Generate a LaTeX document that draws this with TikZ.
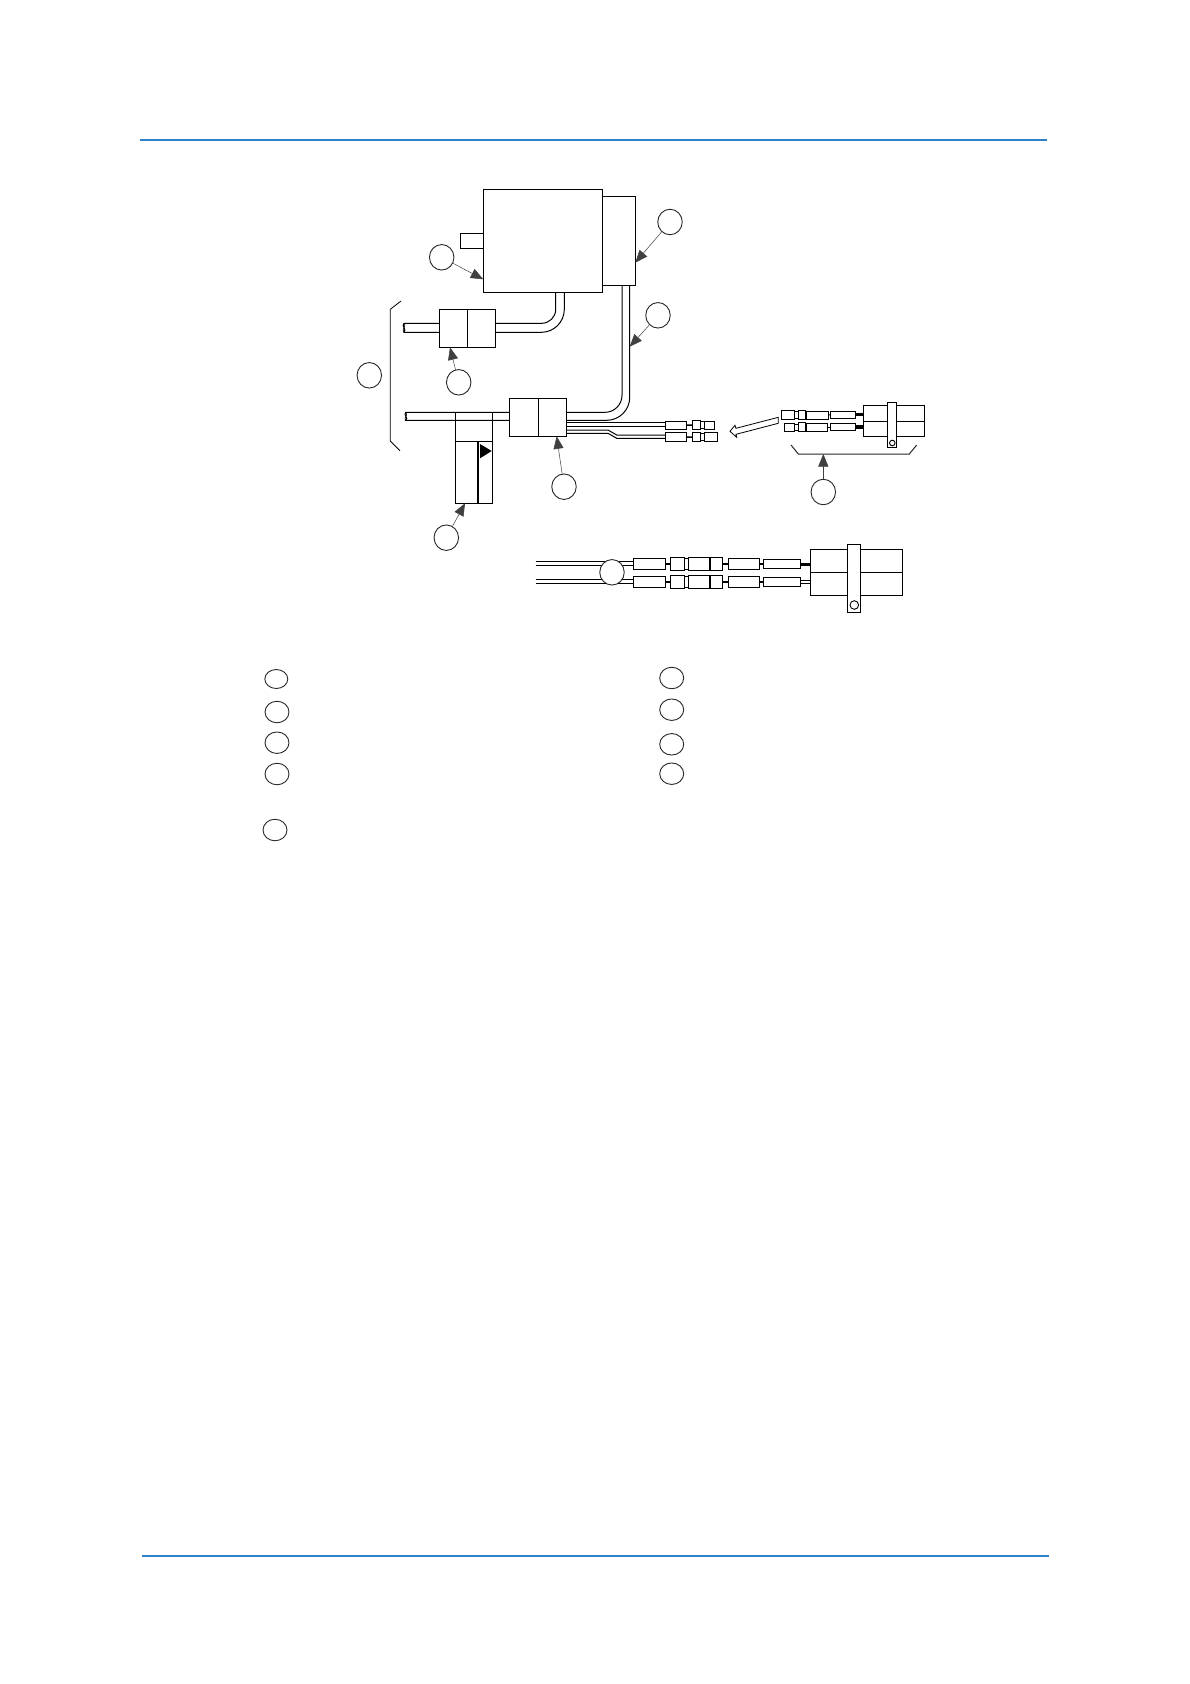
\documentclass[tikz,border=0pt]{standalone}
\usepackage{tikz}
\usetikzlibrary{shapes.geometric,arrows.meta}
\definecolor{rulecolor}{HTML}{2F82C8}
\tikzstyle{every node}=[inner sep=0pt,outer sep=0pt]
\tikzstyle{part}=[draw=black,line width=0.9pt,rectangle]
\tikzset{size/.style 2 args={minimum width=#1pt,minimum height=#2pt}}
\tikzstyle{callout}=[draw=black!85,line width=0.9pt,ellipse,fill=white,minimum width=24.5pt,minimum height=25.5pt]
\tikzstyle{legendmark}=[draw=black!85,line width=0.9pt,ellipse,minimum width=24pt,minimum height=21.5pt]
\tikzstyle{leader}=[draw=black!75,line width=0.5pt,-{Triangle[length=12.5pt,width=10pt]}]
\tikzstyle{cable}=[line width=1pt]
\tikzstyle{pagerule}=[draw=rulecolor,line width=2pt]

\begin{document}
\begin{tikzpicture}[x=1pt,y=-1pt]
  \useasboundingbox (0,0) rectangle (1190,1684);
  % page rules
  \coordinate (topruleL) at (140,139.7);
  \coordinate (topruleR) at (1047,139.7);
  \coordinate (botruleL) at (142,1555.7);
  \coordinate (botruleR) at (1049,1555.7);
  \draw[pagerule] (topruleL) -- (topruleR);
  \draw[pagerule] (botruleL) -- (botruleR);

  % motor
  \node[part,size={119}{103}] (motor) at (542.8,240.8) {};
  \node[part,size={33}{89}] (side) at (618.8,240.8) {};
  \node[part,size={23}{15}] (shaft) at (471.8,240.8) {};

  % upper connector
  \node[part,size={28}{38}] (topL) at (453.3,328.3) {};
  \node[part,size={28}{38}] (topR) at (481.5,328.3) {};
  \draw[cable,rounded corners=14pt] ([xshift=12.9pt]motor.south) |- ([yshift=5pt]topR.east);
  \draw[cable,rounded corners=23pt] ([xshift=21.5pt]motor.south) |- ([yshift=-4pt]topR.east);
  \coordinate (stubA) at (404,323.3);
  \coordinate (stubB) at (404,332.3);
  \draw[cable] ([yshift=5pt]topL.west) -- (stubA) .. controls (401,326) and (407,329) .. (stubB) -- ([yshift=-4pt]topL.west);
  \draw[line width=0.6pt] (stubA) .. controls (407,326) and (401,329) .. (stubB);

  % lower connector
  \node[part,size={29}{38}] (lowL) at (523.8,417.3) {};
  \node[part,size={28.4}{38}] (lowR) at (552.5,417.3) {};
  \draw[cable,rounded corners=17pt] ([xshift=3.2pt]side.south) |- ([yshift=5pt]lowR.east);
  \draw[cable,rounded corners=23pt] ([xshift=10.9pt]side.south) |- ([yshift=-3pt]lowR.east);
  \coordinate (stubC) at (405.7,412.3);
  \coordinate (stubD) at (405.7,420.3);
  \draw[cable] ([yshift=5pt]lowL.west) -- (stubC) .. controls (403,415) and (409,418) .. (stubD) -- ([yshift=-3pt]lowL.west);
  \draw[line width=0.6pt] (stubC) .. controls (409,415) and (403,418) .. (stubD);

  % bracket of the two connectors
  \coordinate (brA) at (401,301);
  \coordinate (brB) at (390.3,309.3);
  \coordinate (brC) at (390.3,441);
  \coordinate (brD) at (400,450.7);
  \draw[line width=0.8pt] (brA) -- (brB) -- (brC) -- (brD);

  % sensor under the cable
  \node[part,size={37.4}{29}] (senshead) at (474,426.8) {};
  \node[part,size={37.4}{62}] (sensbody) at (474,472.3) {};
  \draw[line width=1.6pt] (478,441.3) -- (478,503.3);
  \fill[black] (480,444) -- (491.7,451) -- (480,458.3) -- cycle;

  % terminals on the wires
  \node[part,size={21.4}{8.7}] (termA) at (676,425.3) {};
  \node[part,size={8.4}{9.4}] (termB) at (696.5,425) {};
  \node[part,size={10.4}{8.3}] (termC) at (709.5,425.3) {};
  \node[part,size={21.4}{9}] (termD) at (676,437.2) {};
  \node[part,size={8.4}{9.4}] (termE) at (696.5,437) {};
  \node[part,size={13.4}{9.4}] (termF) at (711,437) {};
  \draw[cable] ([yshift=-5.4pt]lowR.east) -- ([yshift=2.6pt]termA.west);
  \draw[cable] ([yshift=-9.4pt]lowR.east) -- ([yshift=-1.4pt]termA.west);
  \draw[cable] ([yshift=-12.7pt]lowR.east) -- (608,430) -- (616.7,435) -- ([yshift=2.2pt]termD.west);
  \draw[cable] ([yshift=-16pt]lowR.east) -- (608,433.3) -- (616.7,438.3) -- ([yshift=-1.1pt]termD.west);
  \draw[line width=1.6pt] (termA) -- (termB);
  \draw[line width=1.6pt] (termD) -- (termE);
  \foreach \a/\b in {termB/termC,termE/termF} {
    \draw[line width=0.8pt] ([yshift=-1pt]\a.north east) -- ([yshift=-1pt]\a.north east -| \b.west);
    \draw[line width=0.8pt] ([yshift=1pt]\a.south east) -- ([yshift=1pt]\a.south east -| \b.west);
  }

  % plug, small view
  \node[part,size={13.3}{9.4}] (plugA) at (788,415) {};
  \node[part,size={6.7}{9.4}] (plugB) at (801.7,415) {};
  \node[part,size={21.7}{8}] (plugC) at (817.2,415) {};
  \node[part,size={25.4}{6.7}] (plugD) at (843,414.7) {};
  \node[part,size={10.4}{8}] (plugE) at (789.5,427) {};
  \node[part,size={6.7}{9.4}] (plugF) at (801.7,427) {};
  \node[part,size={21.4}{8}] (plugG) at (817,427) {};
  \node[part,size={25.4}{6.7}] (plugH) at (843,427) {};
  \node[part,size={61.4}{31.4}] (plugbody) at (894,421) {};
  \draw[cable] (plugbody.west) -- (plugbody.east);
  \node[part,fill=white,size={9.4}{45.4}] (plugstrap) at (892,425) {};
  \node[part,circle,minimum size=5.6pt] (plughole) at (892.3,443) {};
  \foreach \a/\b in {plugA/plugB,plugE/plugF} {
    \draw[line width=0.8pt] ([yshift=-1pt]\a.north east) -- ([yshift=-1pt]\a.north east -| \b.west);
    \draw[line width=0.8pt] ([yshift=1pt]\a.south east) -- ([yshift=1pt]\a.south east -| \b.west);
  }
  \draw[line width=1pt] (plugC) -- (plugD);
  \draw[line width=1pt] (plugG) -- (plugH);
  \draw[line width=3.2pt] (plugD.east) -- (plugD.east -| plugbody.west);
  \draw[line width=3.2pt] (plugH.east) -- (plugH.east -| plugbody.west);

  % hollow arrow from the plug to the terminals
  \coordinate (hollowtip) at (730,431.3);
  \draw[line width=0.8pt] (778.3,417.3) -- (778.3,423.3) -- (736,434.3) -- (736.7,437.3) -- (hollowtip) -- (735,425.3) -- (736,428.3) -- cycle;

  % bracket of the plug
  \coordinate (plugbrA) at (791,445);
  \coordinate (plugbrB) at (798.3,454);
  \coordinate (plugbrC) at (909.3,454);
  \coordinate (plugbrD) at (916.7,445);
  \coordinate (plugbrtip) at (823.3,454);
  \draw[draw=black!85,line width=1pt] (plugbrA) -- (plugbrB) -- (plugbrC) -- (plugbrD);

  % plug, large view
  \foreach \y/\s in {564/one,582/two} {
    \node[part,size={32.4}{11.4}] (bigA\s) at (649.5,\y) {};
    \node[part,size={14.4}{13.4}] (bigB\s) at (677.5,\y) {};
    \node[part,size={3.3}{11}] (bigL\s) at (686.4,\y) {};
    \node[part,size={20.7}{13.4}] (bigC\s) at (698.6,\y) {};
    \node[part,size={12.4}{13.4}] (bigD\s) at (716.3,\y) {};
    \node[part,size={31.4}{11.4}] (bigE\s) at (744,\y) {};
    \node[part,size={37.4}{9.4}] (bigF\s) at (782,\y) {};
    \draw[line width=1.6pt] (bigA\s) -- (bigB\s);
    \draw[line width=1.6pt] (bigD\s) -- (bigE\s);
    \draw[line width=1.6pt] (bigE\s) -- (bigF\s);
  }
  \node[part,size={92.4}{46}] (bigbody) at (856.5,572.3) {};
  \draw[cable] (bigbody.west) -- (bigbody.east);
  \node[part,fill=white,size={13.4}{68}] (bigstrap) at (854,578.3) {};
  \node[part,circle,minimum size=8.6pt] (bighole) at (854.3,605) {};
  \draw[line width=3pt] (bigFone.east) -- (bigFone.east -| bigbody.west);
  \draw[cable] ([yshift=1.5pt]bigFtwo.east) -- ([yshift=1.5pt]bigFtwo.east -| bigbody.west);
  \draw[cable] ([yshift=-1.5pt]bigFtwo.east) -- ([yshift=-1.5pt]bigFtwo.east -| bigbody.west);
  \foreach \y/\s in {561.7/one,565.3/one,579.7/two,583.3/two} {
    \coordinate (wireend) at (535.7,\y);
    \draw[cable] (wireend) -- (wireend -| bigA\s.west);
  }

  % callouts
  \node[callout] (cSide) at (670,222) {};
  \node[callout] (cMotor) at (441.7,257.3) {};
  \node[callout] (cCable) at (658,315.3) {};
  \node[callout] (cPair) at (369.3,375.3) {};
  \node[callout] (cTop) at (458.7,382.3) {};
  \node[callout] (cLow) at (564,486.7) {};
  \node[callout] (cSens) at (446.3,537.7) {};
  \node[callout] (cPlug) at (823.3,492) {};
  \node[callout] (cBig) at (612,572.3) {};
  \coordinate (cabletap) at (629.7,346.7);
  \draw[leader] (cSide) -- ([yshift=-21.9pt]side.east);
  \draw[leader] (cMotor) -- ([yshift=-38.5pt]motor.west);
  \draw[leader] (cCable) -- (cabletap);
  \draw[leader] (cTop) -- ([xshift=-3.3pt]topL.south);
  \draw[leader] (cLow) -- ([xshift=4.2pt]lowR.south);
  \draw[leader] (cSens) -- ([xshift=-9pt]sensbody.south);
  \draw[leader] (cPlug) -- (plugbrtip);

  % legend
  \node[legendmark,minimum height=19pt,minimum width=23pt] (mkA) at (276.3,679) {};
  \node[legendmark] (mkB) at (277,712) {};
  \node[legendmark] (mkC) at (277,742.7) {};
  \node[legendmark] (mkD) at (277,774) {};
  \node[legendmark] (mkE) at (275,830) {};
  \node[legendmark] (mkF) at (671.7,678) {};
  \node[legendmark] (mkG) at (671.7,709.7) {};
  \node[legendmark] (mkH) at (671.7,744.3) {};
  \node[legendmark] (mkI) at (671.7,773.7) {};
\end{tikzpicture}
\end{document}
